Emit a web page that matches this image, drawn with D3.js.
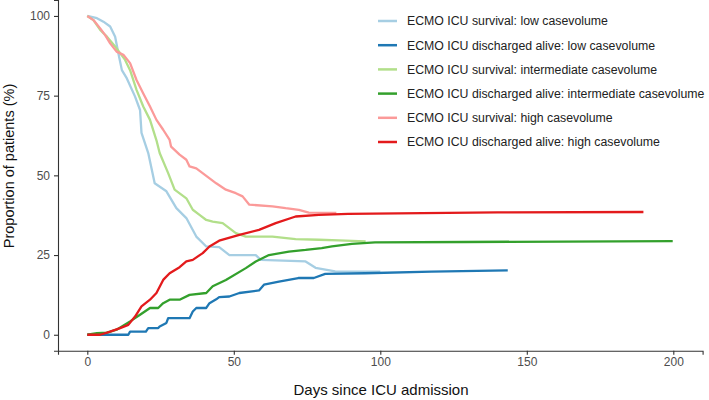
<!DOCTYPE html>
<html>
<head>
<meta charset="utf-8">
<script src="https://cdn.jsdelivr.net/npm/d3@7"></script>
<style>
  html, body { margin: 0; padding: 0; background: #fff; }
  svg { display: block; font-family: "Liberation Sans", Arial, sans-serif; }
</style>
</head>
<body>
<svg id="chart" width="709" height="400"></svg>
<script>
// ---- Data (days since ICU admission, proportion %) ----
const lowSurvival = [[0,100],[3.3,99.3],[5.5,98.2],[7.8,96.7],[9.5,93.5],[10.6,88.3],[11.8,83],[13.5,80.4],[16.3,74.7],[18,70.5],[18.5,63.3],[20.8,57],[23,47.5],[27,45],[30.4,39.7],[33.8,36.6],[37.2,30.8],[40.6,27.7],[45,27.5],[48.5,25],[57.5,25],[59.2,23.5],[74.5,23],[77.9,21],[84.6,19.9],[100,19.8]];
const lowDischarged = [[0,0],[14,0],[14.6,1],[20,1],[20.8,2.1],[24.2,2.1],[24.7,2.6],[27,3.7],[27.6,5.2],[34.9,5.2],[36,7.3],[37.2,8.4],[40.6,8.4],[41.7,9.9],[44,11.1],[45,11.8],[48.5,12],[51.9,13.1],[58.6,13.9],[60.3,15.7],[65.4,16.7],[72,17.8],[77.3,17.8],[81.2,19.1],[94.8,19.3],[117.4,19.8],[143.5,20.2]];
const intSurvival = [[0,100],[2.1,98.7],[4.4,95.6],[6.7,93.5],[9.5,90.4],[12.9,86.2],[14.6,83],[16.8,76.8],[19.1,71.6],[21.4,67.4],[23.6,61],[24.7,57],[27.6,50.7],[29.8,45.5],[33.8,42.8],[36,39.2],[38.3,37.6],[40.6,36],[42.8,35.5],[46.2,35],[50.7,31.9],[54.1,30.8],[63.2,30.8],[71.1,30],[79,29.8],[85.8,29.6],[95,29.3]];
const intDischarged = [[0,0],[3.3,0.5],[6.7,0.7],[10,1.6],[14.6,4.2],[18,6.3],[21.4,8.4],[24.2,8.4],[25.9,9.9],[28.1,11],[31.5,11],[34.9,12.5],[40.6,13.1],[42.8,15.2],[47.3,17.2],[54.1,20.9],[57.5,23],[62,25],[68.8,26.1],[74.5,26.6],[80,27.2],[83.5,27.7],[90.3,28.5],[98.2,29],[128.7,29.1],[199.8,29.4]];
const highSurvival = [[0,100],[2.1,98.7],[4.4,96.1],[6.1,94],[7.8,91.4],[10,88.8],[12.3,87.8],[14.6,85.2],[16.8,79.9],[19.1,75.7],[21.4,71.6],[23.6,67.4],[25.9,64.3],[28.1,61.1],[28.6,59],[31.5,56.5],[33.8,54.9],[34.9,52.8],[37.2,52.2],[44,47.5],[47.3,45.5],[50.7,44.4],[53,43.4],[55.3,40.8],[63.2,40.3],[67.7,39.7],[72.2,39.2],[75.6,38.3],[85,38.2]];
const highDischarged = [[0,0],[4.4,0],[7.8,1],[11.2,2.1],[14,3.1],[16.3,5.7],[18.5,8.9],[21.4,11],[23.6,13.1],[25.9,17.2],[28.1,19.3],[31.5,21.2],[33.8,23],[36,23.5],[39.4,25.6],[41.7,27.7],[45,29.5],[51.9,31.3],[58.6,32.9],[64.3,35],[71.1,37.1],[79,37.6],[89,37.9],[106,38.1],[140,38.4],[189.8,38.5]];

const seriesNames = [
  "ECMO ICU survival: low casevolume",
  "ECMO ICU discharged alive: low casevolume",
  "ECMO ICU survival: intermediate casevolume",
  "ECMO ICU discharged alive: intermediate casevolume",
  "ECMO ICU survival: high casevolume",
  "ECMO ICU discharged alive: high casevolume"
];
const seriesData = [lowSurvival, lowDischarged, intSurvival, intDischarged, highSurvival, highDischarged];
const seriesColors = ["#a6cee3", "#1f78b4", "#b2df8a", "#33a02c", "#fb9a99", "#e31a1c"];
const xTicks = [0, 50, 100, 150, 200];
const yTicks = [0, 25, 50, 75, 100];

// ---- Layout ----
const svg = d3.select("#chart");
const x = d3.scaleLinear().domain([-10, 210]).range([58, 702.6]);
const y = d3.scaleLinear().domain([-5, 105]).range([350.7, 0]);

// lines (draw in legend order)
const line = d3.line().x(d => x(d[0])).y(d => y(d[1]));
seriesData.forEach((s, i) => {
  svg.append("path")
    .datum(s)
    .attr("fill", "none")
    .attr("stroke", seriesColors[i])
    .attr("stroke-width", 2.3)
    .attr("stroke-linejoin", "round")
    .attr("d", line);
});

// axes
const xAxis = svg.append("g").attr("transform", `translate(0,${y.range()[0]})`)
  .call(d3.axisBottom(x).tickValues(xTicks).tickSize(4).tickPadding(3));
const yAxis = svg.append("g").attr("transform", `translate(${x.range()[0]},0)`)
  .call(d3.axisLeft(y).tickValues(yTicks).tickSize(4).tickPadding(4));
[xAxis, yAxis].forEach(g => {
  g.select(".domain").attr("stroke", "#333").attr("stroke-width", 1.1);
  g.selectAll(".tick line").attr("stroke", "#333").attr("stroke-width", 1.1);
  g.selectAll(".tick text").attr("fill", "#4d4d4d").style("font-size", "12px")
    .style("font-family", '"Liberation Sans", Arial, sans-serif');
});

// axis titles
svg.append("text")
  .attr("x", 381).attr("y", 395)
  .attr("text-anchor", "middle")
  .attr("fill", "#111")
  .style("font-size", "15px")
  .text("Days since ICU admission");
svg.append("text")
  .attr("transform", "translate(14,166) rotate(-90)")
  .attr("text-anchor", "middle")
  .attr("fill", "#111")
  .style("font-size", "14.5px")
  .text("Proportion of patients (%)");

// legend
const legend = svg.append("g");
const legendY = d3.scalePoint().domain(seriesNames).range([21, 142]);
seriesNames.forEach((name, i) => {
  const ly = legendY(name);
  legend.append("line")
    .attr("x1", 378).attr("x2", 397)
    .attr("y1", ly).attr("y2", ly)
    .attr("stroke", seriesColors[i]).attr("stroke-width", 2.5);
  legend.append("text")
    .attr("x", 407).attr("y", ly)
    .attr("dy", "0.35em")
    .attr("fill", "#222")
    .style("font-size", "12.3px")
    .text(name);
});
</script>
</body>
</html>
